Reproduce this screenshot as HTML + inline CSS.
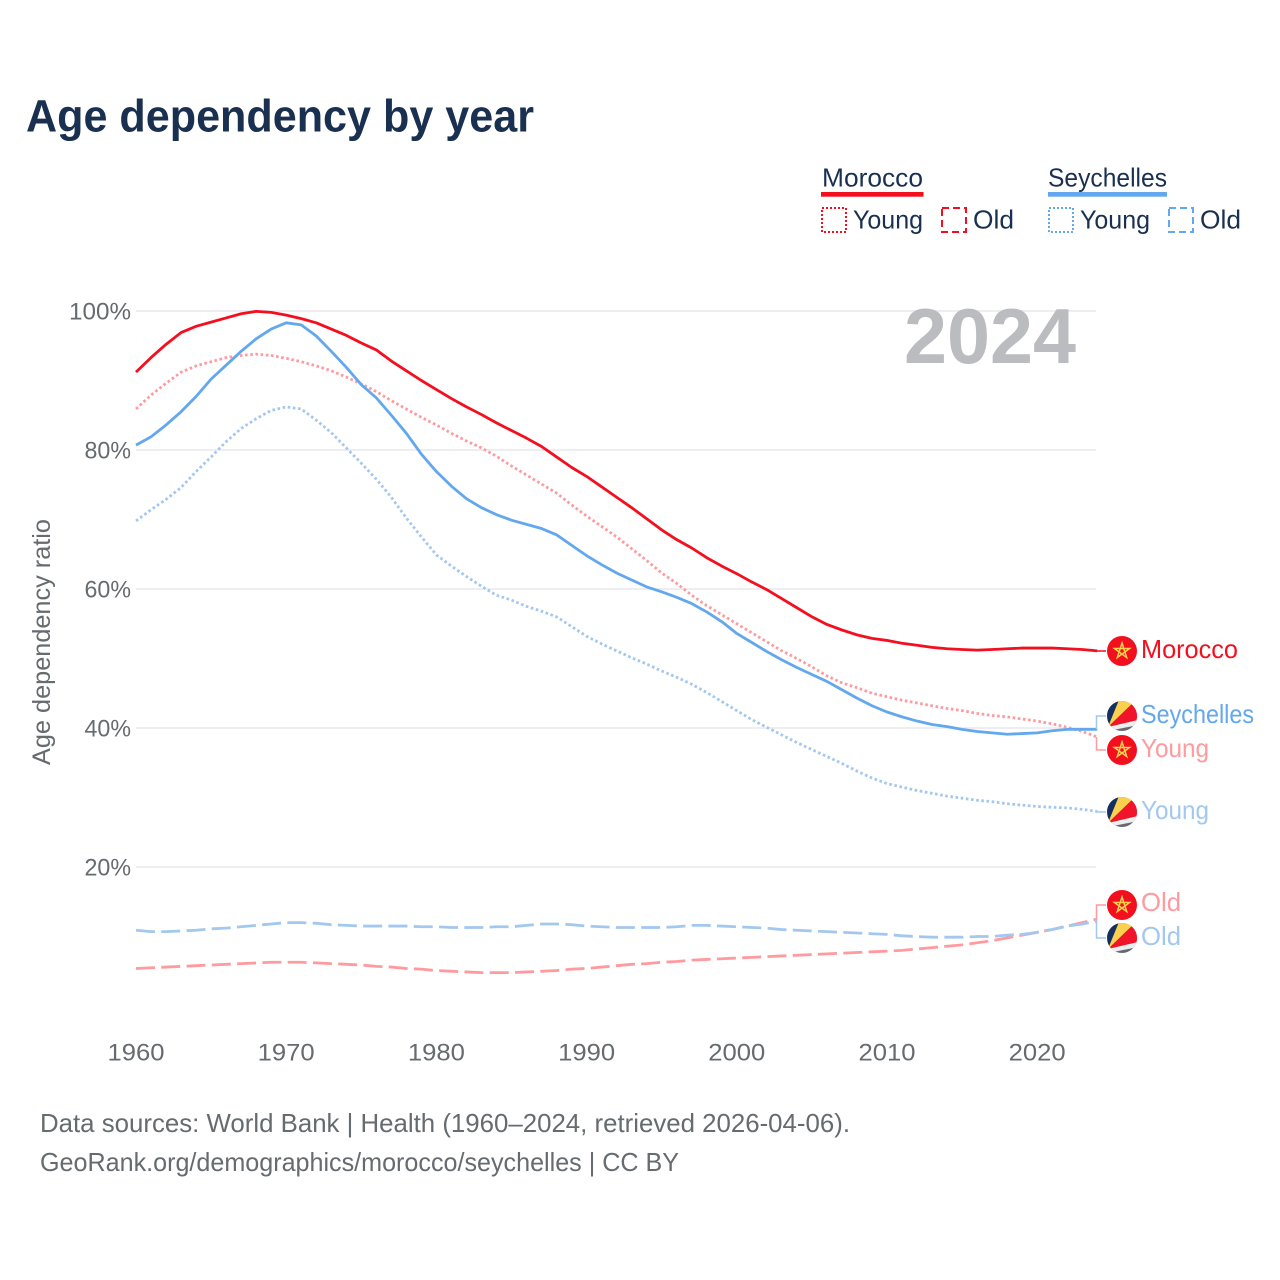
<!DOCTYPE html>
<html lang="en">
<head>
<meta charset="utf-8">
<title>Age dependency by year</title>
<style>
html,body{margin:0;padding:0;background:#fff;width:1280px;height:1280px;overflow:hidden}
svg{display:block;font-family:"Liberation Sans",sans-serif}
.tick{font-size:24px;fill:#666b70}
.leg{font-size:26px;fill:#1a3050}
.end{font-size:26px}
.foot{font-size:26px;fill:#666b70}
</style>
</head>
<body>
<svg id="chart" xmlns="http://www.w3.org/2000/svg" width="1280" height="1280" viewBox="0 0 1280 1280">
<defs>
<clipPath id="flag-clip"><circle cx="0" cy="0" r="15"/></clipPath>
<symbol id="flag-ma" overflow="visible" viewBox="-15 -15 30 30" width="30" height="30">
<circle cx="0" cy="0" r="15" fill="#f2101f"/>
<polygon points="0,-8 4.7,6.5 -7.6,-2.5 7.6,-2.5 -4.7,6.5" fill="none" stroke="#fbd24e" stroke-width="1.5"/>
</symbol>
<symbol id="flag-sc" overflow="visible" viewBox="-15 -15 30 30" width="30" height="30">
<g clip-path="url(#flag-clip)">
<rect x="-15" y="-15" width="30" height="30" fill="#666a6e"/>
<polygon points="-14,11 -16,-16 -3,-16" fill="#14305f"/>
<polygon points="-14,11 -3,-16 14,-16" fill="#fcd04f"/>
<polygon points="-14,11 14,-16 16,-9 16,4" fill="#f2142a"/>
<polygon points="-14,11 16,4 16,9 -9,14" fill="#eceef0"/>
</g>
</symbol>
</defs>

<text x="26" y="131.500" font-size="45" font-weight="700" fill="#1a3050" textLength="508" lengthAdjust="spacingAndGlyphs">Age dependency by year</text>

<g>
<text class="leg" x="822" y="186.500" textLength="101" lengthAdjust="spacingAndGlyphs">Morocco</text>
<rect x="821" y="192" width="102.500" height="4.700" fill="#f40f1f"/>
<rect x="822" y="208" width="24" height="24" fill="none" stroke="#f40f1f" stroke-width="2" stroke-dasharray="2 2"/>
<text class="leg" x="853" y="228.500" textLength="70" lengthAdjust="spacingAndGlyphs">Young</text>
<rect x="942" y="208" width="24" height="24" fill="none" stroke="#f40f1f" stroke-width="2" stroke-dasharray="7 4"/>
<text class="leg" x="973" y="228.500" textLength="41" lengthAdjust="spacingAndGlyphs">Old</text>
<text class="leg" x="1048" y="186.500" textLength="119" lengthAdjust="spacingAndGlyphs">Seychelles</text>
<rect x="1048" y="192" width="119" height="4.700" fill="#63a7ee"/>
<rect x="1049" y="208" width="24" height="24" fill="none" stroke="#63a7ee" stroke-width="2" stroke-dasharray="2 2"/>
<text class="leg" x="1080" y="228.500" textLength="70" lengthAdjust="spacingAndGlyphs">Young</text>
<rect x="1169" y="208" width="24" height="24" fill="none" stroke="#63a7ee" stroke-width="2" stroke-dasharray="7 4"/>
<text class="leg" x="1200" y="228.500" textLength="41" lengthAdjust="spacingAndGlyphs">Old</text>
</g>

<g id="grid"></g>
<g id="yticks"></g>
<g id="xticks"></g>

<text transform="translate(50,765) rotate(-90)" font-size="25" fill="#666b70" textLength="246" lengthAdjust="spacingAndGlyphs">Age dependency ratio</text>
<text x="904" y="363" font-size="78" font-weight="700" fill="#bbbcbf" textLength="172" lengthAdjust="spacingAndGlyphs">2024</text>

<g id="series"></g>
<g id="ends"></g>

<text class="foot" x="40" y="1132" textLength="810" lengthAdjust="spacingAndGlyphs">Data sources: World Bank | Health (1960–2024, retrieved 2026-04-06).</text>
<text class="foot" x="40" y="1171" textLength="639" lengthAdjust="spacingAndGlyphs">GeoRank.org/demographics/morocco/seychelles | CC BY</text>
</svg>

<script>
const startYear = 1960;
const xTickYears = [1960, 1970, 1980, 1990, 2000, 2010, 2020];
const yTickValues = [20, 40, 60, 80, 100];
const yTickLabels = ["20%", "40%", "60%", "80%", "100%"];

const moroccoTotal = [91.2,93.3,95.2,96.9,97.8,98.4,99.0,99.6,99.95,99.8,
99.4,98.9,98.3,97.4,96.5,95.4,94.4,92.8,91.4,90.0,
88.7,87.4,86.2,85.1,83.9,82.8,81.7,80.5,79.0,77.5,
76.2,74.7,73.2,71.7,70.1,68.5,67.1,65.9,64.5,63.3,
62.2,61.0,59.9,58.6,57.3,56.0,54.9,54.1,53.4,52.9,
52.6,52.2,51.9,51.6,51.4,51.3,51.2,51.3,51.4,51.5,
51.5,51.5,51.4,51.3,51.1];
const moroccoYoung = [85.9,87.9,89.6,91.2,92.1,92.7,93.3,93.6,93.8,93.6,
93.2,92.7,92.1,91.4,90.5,89.5,88.4,87.1,85.9,84.7,
83.6,82.4,81.3,80.3,79.1,77.7,76.4,75.1,73.8,72.1,
70.5,69.0,67.5,65.8,64.1,62.3,60.8,59.1,57.6,56.3,
55.0,53.7,52.4,51.1,50.0,48.8,47.5,46.5,45.8,45.0,
44.5,44.0,43.6,43.2,42.8,42.5,42.1,41.8,41.6,41.3,
41.0,40.6,40.1,39.5,38.7];
const moroccoOld = [5.4,5.5,5.6,5.7,5.8,5.9,6.0,6.1,6.2,6.3,
6.3,6.3,6.2,6.1,6.0,5.9,5.7,5.6,5.4,5.3,
5.1,5.0,4.9,4.8,4.8,4.8,4.9,5.0,5.1,5.3,
5.4,5.6,5.8,6.0,6.1,6.3,6.4,6.6,6.7,6.8,
6.9,7.0,7.1,7.2,7.3,7.4,7.5,7.6,7.7,7.8,
7.9,8.0,8.2,8.4,8.6,8.8,9.1,9.4,9.8,10.2,
10.6,11.0,11.5,12.0,12.5];
const seychellesTotal = [80.7,81.9,83.6,85.5,87.7,90.2,92.2,94.2,96.0,97.4,
98.3,98.0,96.4,94.2,91.9,89.4,87.5,85.0,82.4,79.4,
76.9,74.8,73.0,71.7,70.7,69.9,69.3,68.7,67.8,66.3,
64.8,63.5,62.3,61.3,60.3,59.6,58.8,57.9,56.7,55.3,
53.6,52.3,51.0,49.8,48.7,47.7,46.7,45.5,44.3,43.2,
42.3,41.6,41.0,40.5,40.2,39.8,39.5,39.3,39.1,39.2,
39.3,39.6,39.8,39.8,39.8];
const seychellesYoung = [69.8,71.4,72.9,74.6,76.9,79.0,81.2,83.1,84.5,85.7,
86.2,85.9,84.3,82.5,80.3,78.1,75.8,73.2,70.2,67.5,
64.9,63.3,61.8,60.4,59.1,58.4,57.5,56.8,56.0,54.6,
53.2,52.1,51.1,50.1,49.2,48.2,47.3,46.3,45.1,43.8,
42.5,41.2,40.1,39.0,37.9,36.9,35.9,34.9,33.8,32.8,
32.0,31.5,31.0,30.6,30.2,29.9,29.6,29.4,29.1,28.9,
28.7,28.6,28.5,28.3,28.0];
const seychellesOld = [10.9,10.7,10.7,10.8,10.9,11.1,11.2,11.4,11.6,11.8,
12.0,12.0,11.9,11.7,11.6,11.5,11.5,11.5,11.5,11.4,
11.4,11.3,11.3,11.3,11.4,11.4,11.6,11.8,11.8,11.7,
11.5,11.4,11.3,11.3,11.3,11.3,11.4,11.6,11.6,11.5,
11.4,11.3,11.2,11.0,10.9,10.8,10.7,10.6,10.5,10.4,
10.3,10.1,10.0,9.9,9.9,9.9,10.0,10.0,10.2,10.3,
10.6,11.0,11.5,11.8,12.2];

const NS = "http://www.w3.org/2000/svg";
function xScale(year){ return 136 + (year - 1960) * 15.02; }
function yScale(v){ return 1006 - v * 6.95; }
function make(tag, parent, attrs){
  const el = document.createElementNS(NS, tag);
  for (const k in attrs) el.setAttribute(k, attrs[k]);
  parent.appendChild(el);
  return el;
}

const grid = document.getElementById("grid");
const yticks = document.getElementById("yticks");
const xticks = document.getElementById("xticks");
yTickValues.forEach(function(v, i){
  const line = make("line", grid, {x1:136, x2:1096, y1:yScale(v), y2:yScale(v), stroke:"#e8e9ee", "stroke-width":1.5});
  
  
  const label = make("text", yticks, {class:"tick", x:131, y:yScale(v)+8.5, "text-anchor":"end", textLength:yTickLabels[i].length*15.5, lengthAdjust:"spacingAndGlyphs"});
  label.textContent = yTickLabels[i];
  
  
});
xTickYears.forEach(function(year){
  const label = make("text", xticks, {class:"tick", x:xScale(year), y:1060.5, "text-anchor":"middle", textLength:57, lengthAdjust:"spacingAndGlyphs"});
  label.textContent = String(year);
  
  
});

function linePath(values){
  return values.map(function(v, i){
    return (i ? "L" : "M") + xScale(startYear + i).toFixed(2) + " " + yScale(v).toFixed(2);
  }).join("");
}

const seriesGroup = document.getElementById("series");
function drawLine(values, color, dash, name){
  const p = make("path", seriesGroup, {d:linePath(values), fill:"none", stroke:color, "stroke-width":2.8, "stroke-linejoin":"round"});
  if (dash) p.setAttribute("stroke-dasharray", dash);
  
  
}
drawLine(moroccoOld, "#ff9a9f", "19 6.3", "line-morocco-old");
drawLine(seychellesOld, "#a3c8ef", "19 6.3", "line-seychelles-old");
drawLine(moroccoYoung, "#ff9a9f", "2.6 2.6", "line-morocco-young");
drawLine(seychellesYoung, "#a3c8ef", "2.6 2.6", "line-seychelles-young");
drawLine(moroccoTotal, "#f40f1f", null, "line-morocco-total");
drawLine(seychellesTotal, "#63a7ee", null, "line-seychelles-total");

const ends = document.getElementById("ends");
function drawEnd(values, flagY, labelY, flag, text, width, color, connColor, name){
  const yEnd = yScale(values[values.length - 1]);
  const d = "M1096.500 " + yEnd.toFixed(2) + "L1096.500 " + flagY + "L1106 " + flagY;
  const c = make("path", ends, {d:d, fill:"none", stroke:connColor, "stroke-width":1.5});
  
  
  const u = make("use", ends, {href:"#" + flag, x:1107, y:flagY - 15, width:30, height:30});
  
  
  const t = make("text", ends, {class:"end", x:1141, y:labelY, fill:color, textLength:width, lengthAdjust:"spacingAndGlyphs"});
  t.textContent = text;
  
  
}
drawEnd(moroccoTotal, 651, 658, "flag-ma", "Morocco", 97, "#f40f1f", "#f40f1f", "end-morocco");
drawEnd(seychellesTotal, 716, 723, "flag-sc", "Seychelles", 113, "#63a7ee", "#a3c8ef", "end-seychelles");
drawEnd(moroccoYoung, 750, 757, "flag-ma", "Young", 68, "#ff9a9f", "#ff9a9f", "end-morocco-young");
drawEnd(seychellesYoung, 812, 819, "flag-sc", "Young", 68, "#a3c8ef", "#a3c8ef", "end-seychelles-young");
drawEnd(moroccoOld, 905, 911, "flag-ma", "Old", 40, "#ff9a9f", "#ff9a9f", "end-morocco-old");
drawEnd(seychellesOld, 938, 945, "flag-sc", "Old", 40, "#a3c8ef", "#a3c8ef", "end-seychelles-old");
</script>
</body>
</html>
